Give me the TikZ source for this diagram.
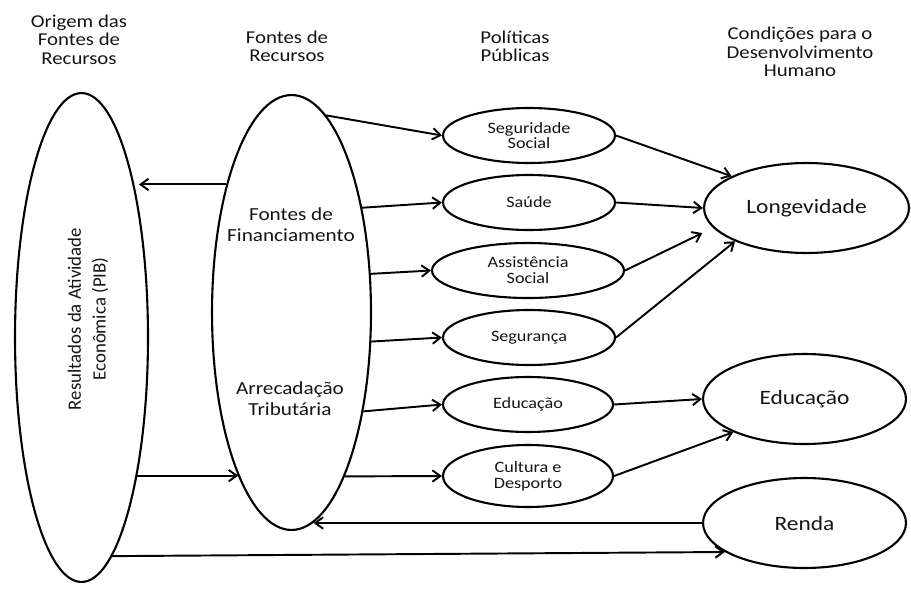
\documentclass[tikz,border=0pt]{standalone}
\usepackage{fontspec}
\setmainfont{Carlito}
\newfontfamily\widefont[FakeStretch=1.15]{Carlito}
\usetikzlibrary{shapes.geometric,arrows.meta}

\begin{document}
\begin{tikzpicture}[x=0.02cm,y=-0.02cm,
  every node/.style={font=\widefont, text=black!92},
  oval/.style={ellipse, draw=black, line width=1.2pt, inner sep=0pt},
  conn/.style={line width=1.1pt, -{Straight Barb[length=4.5pt,width=6.5pt]}},
  hdr/.style={align=center, font=\widefont\fontsize{10.3}{10.4}\selectfont},
  inlbl/.style={align=center, font=\widefont\fontsize{10.5}{12}\selectfont},
  pol/.style={oval, minimum height=1.1cm, align=center, font=\widefont\fontsize{9}{9}\selectfont},
  goal/.style={oval, minimum width=4.06cm, minimum height=1.8cm, font=\widefont\fontsize{11.6}{14}\selectfont},
  ]
\useasboundingbox (0,0) rectangle (911,588);

% column headings
\node[hdr] (h1) at (79,39.6) {Origem das\\Fontes de\\Recursos};
\node[hdr] (h2) at (287,46.6) {Fontes de\\Recursos};
\node[hdr] (h3) at (515,46.6) {Políticas\\Públicas};
\node[hdr] (h4) at (800,52) {Condições para o\\Desenvolvimento\\Humano};

% origin and sources
\node[oval, minimum width=2.66cm, minimum height=9.78cm] (pib) at (81.5,337.5) {};
\node[rotate=90, align=center, font=\fontsize{10.7}{14}\selectfont] (pibtxt) at (88,319)
  {Resultados da Atividade\\Econômica (PIB)};
\node[oval, minimum width=3.18cm, minimum height=8.7cm] (fontes) at (291.5,312.5) {};
\node[inlbl] (fin) at (291,225) {Fontes de\\Financiamento};
\node[inlbl] (arr) at (290,399) {Arrecadação\\Tributária};

% public policies
\node[pol, minimum width=3.44cm] (seg) at (529,135.5) {Seguridade\\Social};
\node[pol, minimum width=3.44cm] (sau) at (529,202.5) {Saúde};
\node[pol, minimum width=3.84cm] (ass) at (528,270.5) {Assistência\\Social};
\node[pol, minimum width=3.44cm] (segur) at (529,337.5) {Segurança};
\node[pol, minimum width=3.4cm] (edu) at (528,404.5) {Educação};
\node[pol, minimum width=3.4cm, minimum height=1.24cm] (cult) at (528,476) {Cultura e\\Desporto};

% human development conditions
\node[goal, minimum width=4.1cm] (lon) at (806.5,208) {Longevidade};
\node[goal] (edr) at (804.5,399) {Educação};
\node[goal] (renda) at (804.5,523) {Renda};

% flows between sources
\draw[conn] (fontes.117) -- (fontes.117 -| pib.66);
\draw[conn] (pib.-68) -- (pib.-68 -| fontes.-108);
\draw[conn] (pib.-82) -- (renda.200);
\draw[conn] (renda.west) -- (renda.west -| fontes.-84);

% sources to policies
\draw[conn] (fontes.80) -- (seg.west);
\draw[conn] (fontes.56) -- (sau.west);
\draw[conn] (fontes.26) -- (ass.west);
\draw[conn] (fontes.-20) -- (segur.west);
\draw[conn] (fontes.-54) -- (edu.west);
\draw[conn] (fontes.-72) -- (cult.west);

% policies to conditions
\draw[conn] (seg.east) -- (lon.157);
\draw[conn] (sau.east) -- (lon.west);
\draw[conn, shorten >=0.24cm] (ass.east) -- (lon.192);
\draw[conn] (segur.east) -- (lon.205);
\draw[conn] (edu.east) -- (edr.west);
\draw[conn] (cult.east) -- (edr.205);
\end{tikzpicture}
\end{document}
